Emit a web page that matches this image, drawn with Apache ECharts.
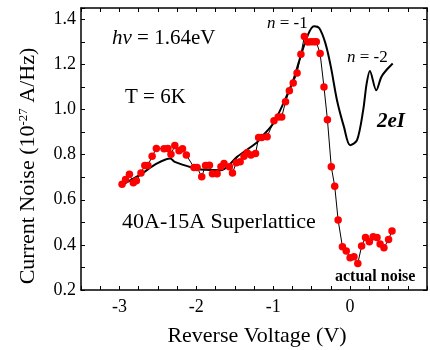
<!DOCTYPE html>
<html>
<head>
<meta charset="utf-8">
<script src="https://cdn.jsdelivr.net/npm/echarts@6/dist/echarts.min.js"></script>
<style>
  html, body { margin: 0; padding: 0; background: #fff; }
  #chart { width: 430px; height: 350px; }
</style>
</head>
<body>
<div id="chart"></div>
<script>
// 2eI (shot noise) curve
const theoryV = [-2.97, -2.74, -2.51, -2.34, -2.28, -2.04, -1.94, -1.68, -1.6, -1.47, -1.23, -1.13, -1.0, -0.87, -0.74, -0.66, -0.55, -0.47, -0.4, -0.32, -0.25, -0.17, -0.08, 0.0, 0.09, 0.17, 0.215, 0.257, 0.34, 0.406, 0.47, 0.554];
const theoryNoise = [0.665, 0.709, 0.761, 0.783, 0.768, 0.741, 0.734, 0.731, 0.745, 0.79, 0.849, 0.886, 0.938, 1.026, 1.13, 1.218, 1.33, 1.369, 1.36, 1.292, 1.189, 1.04, 0.923, 0.842, 0.864, 0.997, 1.115, 1.171, 1.085, 1.144, 1.174, 1.204];

// actual noise (red dots)
const measV = [-2.966, -2.92, -2.87, -2.82, -2.78, -2.72, -2.67, -2.63, -2.575, -2.52, -2.42, -2.37, -2.33, -2.28, -2.225, -2.18, -2.13, -2.03, -1.99, -1.93, -1.88, -1.83, -1.79, -1.73, -1.68, -1.64, -1.57, -1.53, -1.48, -1.43, -1.38, -1.34, -1.29, -1.23, -1.19, -1.15, -1.08, -0.99, -0.935, -0.89, -0.84, -0.79, -0.74, -0.69, -0.64, -0.595, -0.55, -0.51, -0.47, -0.44, -0.39, -0.34, -0.295, -0.245, -0.2, -0.156, -0.1, -0.05, 0.0, 0.05, 0.1, 0.15, 0.2, 0.25, 0.3, 0.35, 0.39, 0.44, 0.5, 0.545];
const measNoise = [0.669, 0.69, 0.713, 0.675, 0.684, 0.719, 0.752, 0.752, 0.793, 0.827, 0.826, 0.827, 0.802, 0.84, 0.817, 0.826, 0.798, 0.743, 0.743, 0.702, 0.752, 0.753, 0.715, 0.715, 0.746, 0.761, 0.746, 0.719, 0.764, 0.768, 0.793, 0.808, 0.798, 0.805, 0.876, 0.876, 0.879, 0.95, 0.967, 0.967, 1.034, 1.083, 1.118, 1.162, 1.245, 1.324, 1.299, 1.30, 1.30, 1.30, 1.248, 1.10, 0.955, 0.746, 0.66, 0.51, 0.392, 0.373, 0.343, 0.347, 0.318, 0.395, 0.433, 0.414, 0.436, 0.433, 0.404, 0.387, 0.424, 0.462];

const xTickLabels = ['-3', '-2', '-1', '0'];
const yTickLabels = ['0.2', '0.4', '0.6', '0.8', '1.0', '1.2', '1.4'];

const serif = 'Liberation Serif';

const chart = echarts.init(document.getElementById('chart'));

const axisCommon = {
  axisLine: { onZero: false, lineStyle: { color: '#000', width: 1.5 } },
  axisTick: { inside: true, length: 4, lineStyle: { color: '#000', width: 1 } },
  splitLine: { show: false }
};

chart.setOption({
  animation: false,
  grid: { left: 81, top: 8, width: 352, height: 282 },
  xAxis: [
    {
      type: 'value', min: -3.5, max: 1.0, interval: 0.25,
      ...axisCommon,
      axisLabel: {
        margin: 8, fontSize: 18, fontFamily: serif, color: '#000',
        formatter: v => {
          const s = String(Math.round(v));
          return (Math.abs(v - Math.round(v)) < 1e-6 && xTickLabels.includes(s)) ? s : '';
        }
      }
    },
    {
      type: 'value', position: 'top', min: -3.5, max: 1.0, interval: 0.25,
      ...axisCommon,
      axisLabel: { show: false }
    }
  ],
  yAxis: [
    {
      type: 'value', position: 'left', min: 0.2, max: 1.45, interval: 0.1,
      ...axisCommon,
      axisLabel: {
        margin: 5, fontSize: 18, fontFamily: serif, color: '#000',
        formatter: v => {
          const s = v.toFixed(1);
          return (Math.abs(v * 10 - Math.round(v * 10)) < 1e-6 && yTickLabels.includes(s)) ? s : '';
        }
      }
    },
    {
      type: 'value', position: 'right', min: 0.2, max: 1.45, interval: 0.1,
      ...axisCommon,
      axisLabel: { show: false }
    }
  ],
  series: [
    {
      name: '2eI',
      type: 'line',
      smooth: 0.3,
      showSymbol: false,
      lineStyle: { color: '#000', width: 2 },
      data: theoryV.map((v, i) => [v, theoryNoise[i]])
    },
    {
      name: 'actual noise',
      type: 'line',
      symbol: 'circle',
      symbolSize: 7.5,
      itemStyle: { color: '#ff0000' },
      lineStyle: { color: '#000', width: 1 },
      data: measV.map((v, i) => [v, measNoise[i]])
    }
  ],
  graphic: [
    {
      type: 'text', x: 112, y: 38,
      style: {
        text: '{i|hν} = 1.64eV', font: '21px ' + serif, fill: '#000',
        align: 'left', verticalAlign: 'middle',
        rich: { i: { fontStyle: 'italic', fontSize: 21, fontFamily: serif } }
      }
    },
    {
      type: 'text', x: 125, y: 97,
      style: { text: 'T = 6K', font: '21px ' + serif, fill: '#000', align: 'left', verticalAlign: 'middle' }
    },
    {
      type: 'text', x: 122, y: 222,
      style: { text: '40A-15A Superlattice', font: '22px ' + serif, fill: '#000', align: 'left', verticalAlign: 'middle' }
    },
    {
      type: 'text', x: 267, y: 24,
      style: {
        text: '{i|n} = -1', font: '17px ' + serif, fill: '#000', align: 'left', verticalAlign: 'middle',
        rich: { i: { fontStyle: 'italic', fontSize: 17, fontFamily: serif } }
      }
    },
    {
      type: 'text', x: 347, y: 58,
      style: {
        text: '{i|n} = -2', font: '17px ' + serif, fill: '#000', align: 'left', verticalAlign: 'middle',
        rich: { i: { fontStyle: 'italic', fontSize: 17, fontFamily: serif } }
      }
    },
    {
      type: 'text', x: 377, y: 122,
      style: { text: '2eI', font: 'italic bold 21px ' + serif, fill: '#000', align: 'left', verticalAlign: 'middle' }
    },
    {
      type: 'text', x: 335, y: 277,
      style: { text: 'actual noise', font: 'bold 16px ' + serif, fill: '#000', align: 'left', verticalAlign: 'middle' }
    },
    {
      type: 'text', x: 257, y: 336,
      style: { text: 'Reverse Voltage (V)', font: '22px ' + serif, fill: '#000', align: 'center', verticalAlign: 'middle' }
    },
    {
      type: 'text', x: 28, y: 166, rotation: Math.PI / 2,
      style: {
        text: '{a|Current Noise (10}{s|-27}{a| A/Hz)}', fill: '#000', align: 'center', verticalAlign: 'middle',
        rich: {
          a: { fontSize: 22, fontFamily: serif, color: '#000', verticalAlign: 'bottom' },
          s: { fontSize: 13, fontFamily: serif, color: '#000', verticalAlign: 'top' }
        }
      }
    }
  ]
});
</script>
</body>
</html>
